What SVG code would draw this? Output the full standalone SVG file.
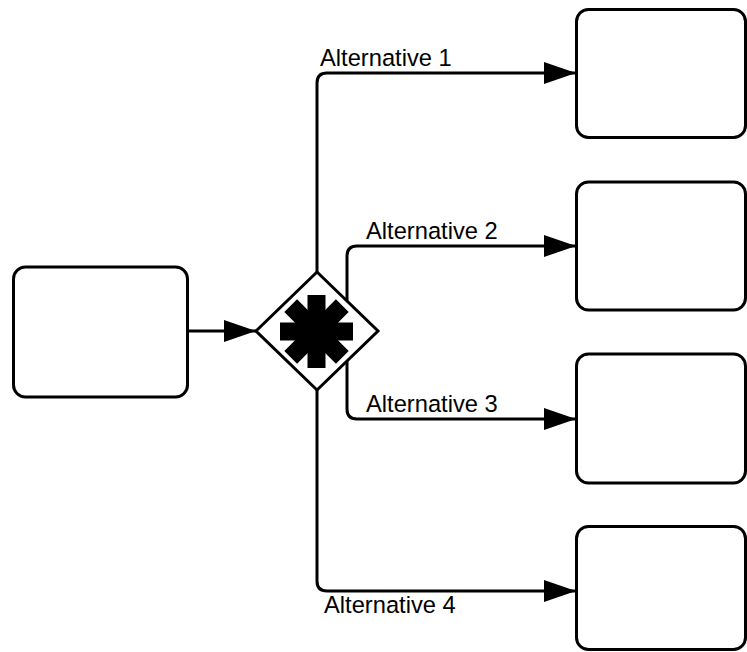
<svg xmlns="http://www.w3.org/2000/svg" width="747" height="652" viewBox="0 0 747 652">
  <style>
    .task { fill: #ffffff; stroke: #000000; stroke-width: 3; }
    .conn { fill: none; stroke: #000000; stroke-width: 3; }
    .lbl { font-family: "Liberation Sans", Arial, sans-serif; font-size: 23.7px; fill: #000000; }
  </style>
  <defs>
    <marker id="arrow" viewBox="0 0 32 22" refX="32" refY="11" markerWidth="32" markerHeight="22" markerUnits="userSpaceOnUse" orient="auto">
      <path d="M0,0 L32,11 L0,22 z" fill="#000000"/>
    </marker>
  </defs>
  <rect width="747" height="652" fill="#ffffff"/>

  <g id="connectors">
    <path class="conn" d="M188,331 L256,331" marker-end="url(#arrow)"/>
    <path class="conn" d="M317,272 L317,83 Q317,73 327,73 L576,73" marker-end="url(#arrow)"/>
    <path class="conn" d="M347,301 L347,256 Q347,246 357,246 L576,246" marker-end="url(#arrow)"/>
    <path class="conn" d="M347,361 L347,409 Q347,419 357,419 L576,419" marker-end="url(#arrow)"/>
    <path class="conn" d="M317,390 L317,581 Q317,591 327,591 L576,591" marker-end="url(#arrow)"/>
    <text class="lbl" x="320" y="66">Alternative 1</text>
    <text class="lbl" x="366" y="239">Alternative 2</text>
    <text class="lbl" x="366" y="412">Alternative 3</text>
    <text class="lbl" x="324" y="613">Alternative 4</text>
  </g>

  <g id="source">
    <rect class="task" x="13.5" y="267" width="174" height="130" rx="12"/>
  </g>

  <g id="gateway">
    <polygon class="task" points="256,331 317,272 378,331 317,390"/>
    <g fill="#000000" transform="translate(316.5,331.5)">
      <rect x="-36.5" y="-9" width="73" height="18"/>
      <rect x="-36.5" y="-9" width="73" height="18" transform="rotate(45)"/>
      <rect x="-36.5" y="-9" width="73" height="18" transform="rotate(90)"/>
      <rect x="-36.5" y="-9" width="73" height="18" transform="rotate(135)"/>
    </g>
  </g>

  <g id="target1">
    <rect class="task" x="576.5" y="9.5" width="169" height="128" rx="12"/>
  </g>
  <g id="target2">
    <rect class="task" x="576.5" y="182" width="169" height="128" rx="12"/>
  </g>
  <g id="target3">
    <rect class="task" x="576.5" y="354" width="169" height="129" rx="12"/>
  </g>
  <g id="target4">
    <rect class="task" x="576.5" y="526.5" width="169" height="123" rx="12"/>
  </g>
</svg>
